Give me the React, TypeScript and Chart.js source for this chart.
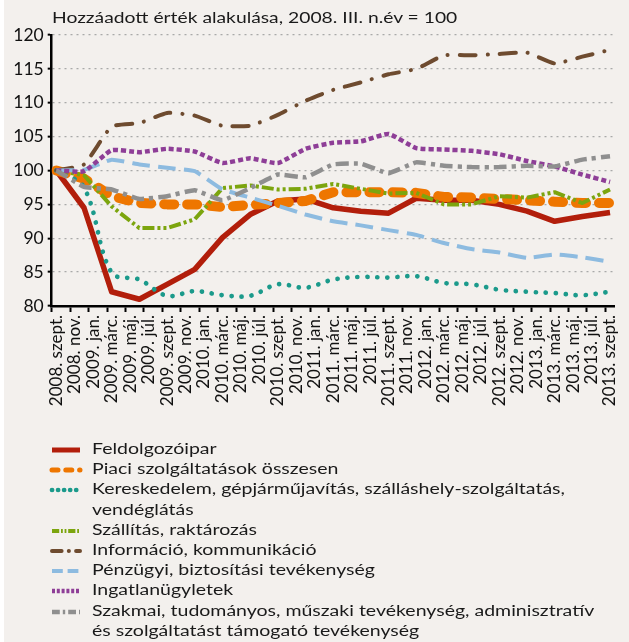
import React, { useEffect, useRef } from 'react';
import { Chart, registerables } from 'chart.js';

Chart.register(...registerables);

const titleText = 'Hozzáadott érték alakulása, 2008. III. n.év = 100';

// quarterly observation points (2008. III. … 2013. III.)
const quarters = [
  '2008. III.', '2008. IV.', '2009. I.', '2009. II.', '2009. III.', '2009. IV.',
  '2010. I.', '2010. II.', '2010. III.', '2010. IV.', '2011. I.', '2011. II.',
  '2011. III.', '2011. IV.', '2012. I.', '2012. II.', '2012. III.', '2012. IV.',
  '2013. I.', '2013. II.', '2013. III.',
];

// bimonthly axis tick labels
const tickLabels = [
  '2008. szept.', '2008. nov.', '2009. jan.', '2009. márc.', '2009. máj.', '2009. júl.',
  '2009. szept.', '2009. nov.', '2010. jan.', '2010. márc.', '2010. máj.', '2010. júl.',
  '2010. szept.', '2010. nov.', '2011. jan.', '2011. márc.', '2011. máj.', '2011. júl.',
  '2011. szept.', '2011. nov.', '2012. jan.', '2012. márc.', '2012. máj.', '2012. júl.',
  '2012. szept.', '2012. nov.', '2013. jan.', '2013. márc.', '2013. máj.', '2013. júl.',
  '2013. szept.',
];

const yMin = 80;
const yMax = 120;
const yStep = 5;

const feldolgozoipar = [100, 94.5, 82.1, 81.0, 83.2, 85.4, 90.1, 93.5, 95.5, 95.8, 94.5, 94.0, 93.7, 95.9, 95.6, 95.6, 95.0, 94.0, 92.5, 93.2, 93.8];
const piaci = [100, 98.8, 96.2, 95.2, 95.0, 95.0, 94.6, 94.9, 95.2, 95.5, 96.8, 96.8, 96.8, 96.7, 96.1, 96.0, 95.8, 95.6, 95.4, 95.2, 95.2];
const kereskedelem = [100, 97.5, 84.9, 83.9, 81.5, 82.2, 81.6, 81.5, 83.2, 82.7, 83.9, 84.3, 84.2, 84.4, 83.4, 83.2, 82.4, 82.1, 81.9, 81.6, 82.1];
const szallitas = [100, 99.3, 94.7, 91.5, 91.5, 92.8, 97.4, 97.8, 97.2, 97.3, 98.0, 97.3, 96.6, 96.7, 95.0, 95.0, 96.2, 96.0, 96.8, 95.2, 97.2];
const informacio = [100, 100.9, 106.5, 107.0, 108.5, 108.1, 106.6, 106.6, 108.2, 110.3, 111.9, 113.0, 114.2, 115.0, 117.0, 117.0, 117.2, 117.4, 115.8, 116.8, 117.8];
const penzugyi = [100, 100.1, 101.6, 100.9, 100.4, 99.9, 97.2, 96.0, 94.8, 93.5, 92.5, 91.9, 91.2, 90.5, 89.3, 88.4, 87.9, 87.1, 87.6, 87.2, 86.5];
const ingatlan = [100, 99.9, 103.0, 102.7, 103.2, 102.8, 101.1, 101.8, 101.1, 103.2, 104.1, 104.3, 105.4, 103.3, 103.1, 102.9, 102.4, 101.4, 100.6, 99.4, 98.3];
const szakmai = [100, 97.6, 97.2, 95.8, 96.2, 97.1, 95.6, 97.4, 99.4, 99.0, 100.9, 101.0, 99.6, 101.2, 100.7, 100.5, 100.5, 100.7, 100.6, 101.6, 102.1];

type Series = {
  lines: string[];
  values: number[];
  color: string;
  width: number;
  dash: number[];
  cap: 'butt' | 'round' | 'square';
  tension: number;
};

const series: Series[] = [
  { lines: ['Feldolgozóipar'], values: feldolgozoipar, color: '#b21e0b', width: 5.5, dash: [], cap: 'butt', tension: 0 },
  { lines: ['Piaci szolgáltatások összesen'], values: piaci, color: '#ee7600', width: 10, dash: [10, 13], cap: 'round', tension: 0 },
  { lines: ['Kereskedelem, gépjárműjavítás, szálláshely-szolgáltatás,', 'vendéglátás'], values: kereskedelem, color: '#1b9a8b', width: 4.7, dash: [0.1, 9.9], cap: 'round', tension: 0.35 },
  { lines: ['Szállítás, raktározás'], values: szallitas, color: '#7ca50e', width: 4, dash: [12, 3, 3, 3, 3, 3], cap: 'butt', tension: 0 },
  { lines: ['Információ, kommunikáció'], values: informacio, color: '#6e4b2f', width: 4, dash: [16, 12, 0.1, 12], cap: 'round', tension: 0.15 },
  { lines: ['Pénzügyi, biztosítási tevékenység'], values: penzugyi, color: '#8dbbe0', width: 4, dash: [18, 8], cap: 'butt', tension: 0.1 },
  { lines: ['Ingatlanügyletek'], values: ingatlan, color: '#8e3e97', width: 4.5, dash: [5, 3], cap: 'butt', tension: 0.15 },
  { lines: ['Szakmai, tudományos, műszaki tevékenység, adminisztratív', 'és szolgáltatást támogató tevékenység'], values: szakmai, color: '#8f8f8f', width: 4.5, dash: [13, 5, 4, 5], cap: 'butt', tension: 0.1 },
];

const BG = '#f3f0ed';
const FONT = 'Lato, "Open Sans", sans-serif';
const CANVAS_W = 629;
const CANVAS_H = 440;
const STRETCH = 'scaleX(1.205)';

function LegendSample({ s }: { s: Series }) {
  return (
    <svg width={36} height={12} style={{ position: 'absolute', left: 48, top: 6 }}>
      <line
        x1={4}
        y1={6}
        x2={32}
        y2={6}
        stroke={s.color}
        strokeWidth={Math.min(s.width, 5)}
        strokeDasharray={s.dash.length ? s.dash.map((d) => Math.max(d * 0.6, 0.1)).join(' ') : undefined}
        strokeLinecap={s.cap}
      />
    </svg>
  );
}

export default function App() {
  const ref = useRef<HTMLCanvasElement | null>(null);

  useEffect(() => {
    if (!ref.current) return;
    const chart = new Chart(ref.current, {
      type: 'line',
      data: {
        datasets: series.map((s, k) => ({
          label: s.lines.join(' '),
          data: s.values.map((v, i) => ({ x: i * 3, y: v, q: quarters[i] })),
          borderColor: s.color,
          backgroundColor: s.color,
          borderWidth: s.width,
          borderDash: s.dash,
          borderCapStyle: s.cap,
          borderJoinStyle: 'round',
          tension: s.tension,
          pointRadius: 0,
          fill: false,
          order: series.length - k,
        })),
      },
      options: {
        animation: false,
        responsive: false,
        maintainAspectRatio: false,
        layout: { padding: { top: 35, right: 11.4, left: 0, bottom: 0 } },
        plugins: { legend: { display: false }, tooltip: { enabled: false }, title: { display: false } },
        scales: {
          x: {
            type: 'linear',
            min: -0.5,
            max: tickLabels.length * 2 - 1.5,
            afterBuildTicks: (scale: any) => {
              scale.ticks = tickLabels.map((_, i) => ({ value: i * 2 - 0.5 }));
            },
            afterFit: (scale: any) => {
              scale.height = CANVAS_H - 306;
            },
            grid: {
              drawOnChartArea: false,
              drawTicks: true,
              tickLength: 6,
              tickColor: '#000',
              tickWidth: 2,
            },
            border: { display: true, color: '#000', width: 2.5 },
            ticks: {
              autoSkip: false,
              minRotation: 90,
              maxRotation: 90,
              padding: 3,
              labelOffset: 4.6,
              color: '#111',
              font: { family: FONT, size: 17 },
              callback: (_v: any, i: number) => tickLabels[i],
            },
          },
          y: {
            min: yMin,
            max: yMax,
            afterFit: (scale: any) => {
              scale.width = 51.7;
            },
            grid: {
              color: '#a9a9a9',
              lineWidth: 1.3,
              drawTicks: true,
              tickLength: 4,
              tickColor: '#000',
              tickWidth: 2,
            },
            border: { display: true, color: '#000', width: 2.5, dash: [2, 4] },
            ticks: {
              stepSize: yStep,
              padding: 4,
              color: '#111',
              font: { family: FONT, size: 17.5 },
            },
          },
        },
      },
    } as any);
    return () => chart.destroy();
  }, []);

  return (
    <div
      style={{
        position: 'absolute',
        left: 0,
        top: 0,
        width: 629,
        height: 642,
        background: BG,
        overflow: 'hidden',
        fontFamily: FONT,
        color: '#1a1a1a',
      }}
    >
      <div style={{ position: 'absolute', left: 0, top: 0, width: 4, height: 642, background: '#fff' }} />
      <canvas
        ref={ref}
        width={CANVAS_W}
        height={CANVAS_H}
        style={{ position: 'absolute', left: 0, top: 0, width: CANVAS_W, height: CANVAS_H, display: 'block' }}
      />
      <div
        style={{
          position: 'absolute',
          left: 52,
          top: 6,
          fontSize: 16,
          lineHeight: '22px',
          whiteSpace: 'nowrap',
          transform: STRETCH,
          transformOrigin: 'left center',
        }}
      >
        {titleText}
      </div>
      <div style={{ position: 'absolute', left: 0, top: 438, width: 629 }}>
        {series.map((s, k) => (
          <div key={k} style={{ position: 'relative', paddingLeft: 91.5, fontSize: 16.2, lineHeight: '20.2px', whiteSpace: 'nowrap' }}>
            <LegendSample s={s} />
            {s.lines.map((l, j) => (
              <div key={j} style={{ transform: STRETCH, transformOrigin: 'left center' }}>
                {l}
              </div>
            ))}
          </div>
        ))}
      </div>
    </div>
  );
}
